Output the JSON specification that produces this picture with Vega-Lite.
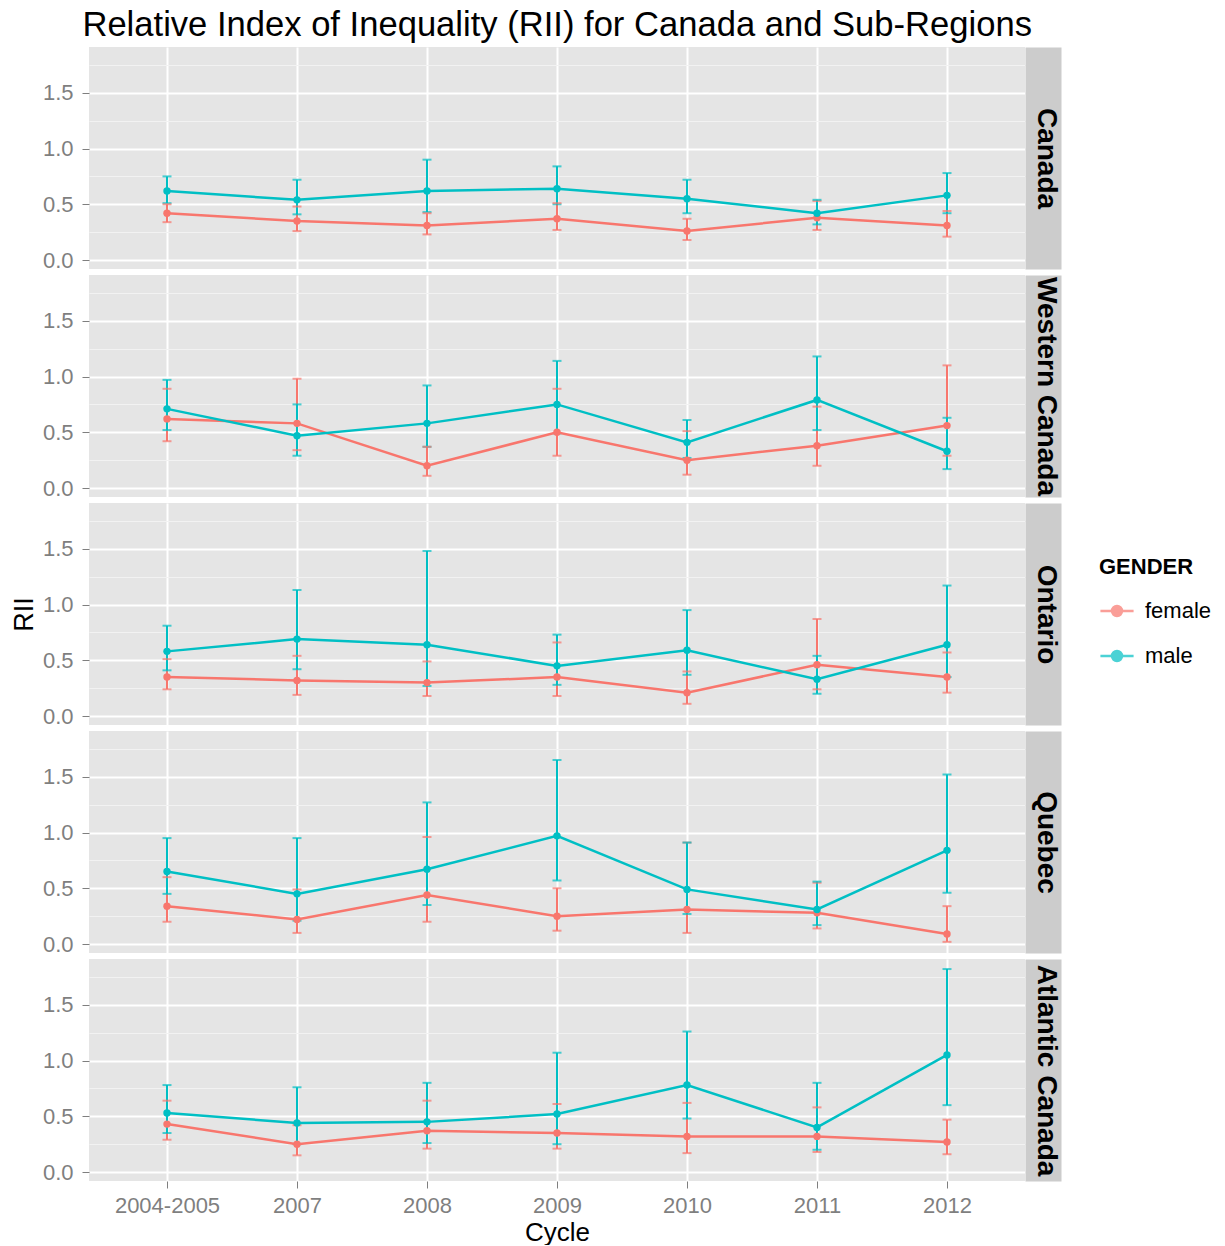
{
  "$schema": "https://vega.github.io/schema/vega-lite/v6.json",
  "background": "white",
  "padding": {"left": 10, "top": 8, "right": 5, "bottom": 0},
  "title": {"text": "Relative Index of Inequality (RII) for Canada and Sub-Regions", "fontSize": 34.6, "font": "Liberation Sans", "fontWeight": "normal", "anchor": "start", "color": "black", "offset": 3, "dx": 72},
  "data": {"values": [
    {"region":"Canada","cycle":"2004-2005","gender":"female","RII":0.42,"lower":0.34,"upper":0.50},
    {"region":"Canada","cycle":"2007","gender":"female","RII":0.35,"lower":0.26,"upper":0.48},
    {"region":"Canada","cycle":"2008","gender":"female","RII":0.31,"lower":0.23,"upper":0.42},
    {"region":"Canada","cycle":"2009","gender":"female","RII":0.37,"lower":0.27,"upper":0.51},
    {"region":"Canada","cycle":"2010","gender":"female","RII":0.26,"lower":0.18,"upper":0.37},
    {"region":"Canada","cycle":"2011","gender":"female","RII":0.38,"lower":0.27,"upper":0.53},
    {"region":"Canada","cycle":"2012","gender":"female","RII":0.31,"lower":0.21,"upper":0.44},
    {"region":"Western Canada","cycle":"2004-2005","gender":"female","RII":0.62,"lower":0.42,"upper":0.89},
    {"region":"Western Canada","cycle":"2007","gender":"female","RII":0.58,"lower":0.34,"upper":0.98},
    {"region":"Western Canada","cycle":"2008","gender":"female","RII":0.20,"lower":0.11,"upper":0.37},
    {"region":"Western Canada","cycle":"2009","gender":"female","RII":0.50,"lower":0.29,"upper":0.89},
    {"region":"Western Canada","cycle":"2010","gender":"female","RII":0.25,"lower":0.12,"upper":0.51},
    {"region":"Western Canada","cycle":"2011","gender":"female","RII":0.38,"lower":0.20,"upper":0.73},
    {"region":"Western Canada","cycle":"2012","gender":"female","RII":0.56,"lower":0.29,"upper":1.10},
    {"region":"Ontario","cycle":"2004-2005","gender":"female","RII":0.35,"lower":0.24,"upper":0.51},
    {"region":"Ontario","cycle":"2007","gender":"female","RII":0.32,"lower":0.19,"upper":0.54},
    {"region":"Ontario","cycle":"2008","gender":"female","RII":0.30,"lower":0.18,"upper":0.49},
    {"region":"Ontario","cycle":"2009","gender":"female","RII":0.35,"lower":0.18,"upper":0.66},
    {"region":"Ontario","cycle":"2010","gender":"female","RII":0.21,"lower":0.11,"upper":0.40},
    {"region":"Ontario","cycle":"2011","gender":"female","RII":0.46,"lower":0.24,"upper":0.87},
    {"region":"Ontario","cycle":"2012","gender":"female","RII":0.35,"lower":0.21,"upper":0.57},
    {"region":"Quebec","cycle":"2004-2005","gender":"female","RII":0.34,"lower":0.20,"upper":0.60},
    {"region":"Quebec","cycle":"2007","gender":"female","RII":0.22,"lower":0.10,"upper":0.49},
    {"region":"Quebec","cycle":"2008","gender":"female","RII":0.44,"lower":0.20,"upper":0.96},
    {"region":"Quebec","cycle":"2009","gender":"female","RII":0.25,"lower":0.12,"upper":0.50},
    {"region":"Quebec","cycle":"2010","gender":"female","RII":0.31,"lower":0.10,"upper":0.91},
    {"region":"Quebec","cycle":"2011","gender":"female","RII":0.28,"lower":0.14,"upper":0.55},
    {"region":"Quebec","cycle":"2012","gender":"female","RII":0.09,"lower":0.02,"upper":0.34},
    {"region":"Atlantic Canada","cycle":"2004-2005","gender":"female","RII":0.43,"lower":0.29,"upper":0.64},
    {"region":"Atlantic Canada","cycle":"2007","gender":"female","RII":0.25,"lower":0.15,"upper":0.42},
    {"region":"Atlantic Canada","cycle":"2008","gender":"female","RII":0.37,"lower":0.21,"upper":0.64},
    {"region":"Atlantic Canada","cycle":"2009","gender":"female","RII":0.35,"lower":0.21,"upper":0.61},
    {"region":"Atlantic Canada","cycle":"2010","gender":"female","RII":0.32,"lower":0.17,"upper":0.62},
    {"region":"Atlantic Canada","cycle":"2011","gender":"female","RII":0.32,"lower":0.18,"upper":0.58},
    {"region":"Atlantic Canada","cycle":"2012","gender":"female","RII":0.27,"lower":0.16,"upper":0.47},
    {"region":"Canada","cycle":"2004-2005","gender":"male","RII":0.62,"lower":0.51,"upper":0.75},
    {"region":"Canada","cycle":"2007","gender":"male","RII":0.54,"lower":0.41,"upper":0.72},
    {"region":"Canada","cycle":"2008","gender":"male","RII":0.62,"lower":0.43,"upper":0.90},
    {"region":"Canada","cycle":"2009","gender":"male","RII":0.64,"lower":0.50,"upper":0.84},
    {"region":"Canada","cycle":"2010","gender":"male","RII":0.55,"lower":0.42,"upper":0.72},
    {"region":"Canada","cycle":"2011","gender":"male","RII":0.42,"lower":0.32,"upper":0.54},
    {"region":"Canada","cycle":"2012","gender":"male","RII":0.58,"lower":0.42,"upper":0.78},
    {"region":"Western Canada","cycle":"2004-2005","gender":"male","RII":0.71,"lower":0.52,"upper":0.97},
    {"region":"Western Canada","cycle":"2007","gender":"male","RII":0.47,"lower":0.29,"upper":0.75},
    {"region":"Western Canada","cycle":"2008","gender":"male","RII":0.58,"lower":0.37,"upper":0.92},
    {"region":"Western Canada","cycle":"2009","gender":"male","RII":0.75,"lower":0.49,"upper":1.14},
    {"region":"Western Canada","cycle":"2010","gender":"male","RII":0.41,"lower":0.27,"upper":0.61},
    {"region":"Western Canada","cycle":"2011","gender":"male","RII":0.79,"lower":0.52,"upper":1.18},
    {"region":"Western Canada","cycle":"2012","gender":"male","RII":0.33,"lower":0.17,"upper":0.63},
    {"region":"Ontario","cycle":"2004-2005","gender":"male","RII":0.58,"lower":0.41,"upper":0.81},
    {"region":"Ontario","cycle":"2007","gender":"male","RII":0.69,"lower":0.42,"upper":1.13},
    {"region":"Ontario","cycle":"2008","gender":"male","RII":0.64,"lower":0.27,"upper":1.48},
    {"region":"Ontario","cycle":"2009","gender":"male","RII":0.45,"lower":0.28,"upper":0.73},
    {"region":"Ontario","cycle":"2010","gender":"male","RII":0.59,"lower":0.37,"upper":0.95},
    {"region":"Ontario","cycle":"2011","gender":"male","RII":0.33,"lower":0.20,"upper":0.54},
    {"region":"Ontario","cycle":"2012","gender":"male","RII":0.64,"lower":0.35,"upper":1.17},
    {"region":"Quebec","cycle":"2004-2005","gender":"male","RII":0.65,"lower":0.45,"upper":0.95},
    {"region":"Quebec","cycle":"2007","gender":"male","RII":0.45,"lower":0.21,"upper":0.95},
    {"region":"Quebec","cycle":"2008","gender":"male","RII":0.67,"lower":0.35,"upper":1.27},
    {"region":"Quebec","cycle":"2009","gender":"male","RII":0.97,"lower":0.57,"upper":1.65},
    {"region":"Quebec","cycle":"2010","gender":"male","RII":0.49,"lower":0.27,"upper":0.91},
    {"region":"Quebec","cycle":"2011","gender":"male","RII":0.31,"lower":0.17,"upper":0.56},
    {"region":"Quebec","cycle":"2012","gender":"male","RII":0.84,"lower":0.46,"upper":1.52},
    {"region":"Atlantic Canada","cycle":"2004-2005","gender":"male","RII":0.53,"lower":0.35,"upper":0.78},
    {"region":"Atlantic Canada","cycle":"2007","gender":"male","RII":0.44,"lower":0.25,"upper":0.76},
    {"region":"Atlantic Canada","cycle":"2008","gender":"male","RII":0.45,"lower":0.26,"upper":0.80},
    {"region":"Atlantic Canada","cycle":"2009","gender":"male","RII":0.52,"lower":0.25,"upper":1.07},
    {"region":"Atlantic Canada","cycle":"2010","gender":"male","RII":0.78,"lower":0.48,"upper":1.26},
    {"region":"Atlantic Canada","cycle":"2011","gender":"male","RII":0.40,"lower":0.20,"upper":0.80},
    {"region":"Atlantic Canada","cycle":"2012","gender":"male","RII":1.05,"lower":0.60,"upper":1.82}
  ]},
  "spacing": 6,
  "bounds": "flush",
  "vconcat": [
    {
      "transform": [{"filter": "datum.region === 'Canada'"}],
      "width": 936, "height": 222,
      "encoding": {
        "x": {"field": "cycle", "type": "ordinal", "sort": ["2004-2005", "2007", "2008", "2009", "2010", "2011", "2012"], "scale": {"type": "point", "padding": 0.6}, "axis": {"labels": false, "ticks": false, "title": null, "grid": true}},
        "color": {"field": "gender", "type": "nominal", "title": "GENDER", "scale": {"domain": ["female", "male"], "range": ["#F8766D", "#00BFC4"]}}
      },
      "layer": [
        {"mark": {"type": "rule", "strokeWidth": 2}, "encoding": {"y": {"field": "lower", "type": "quantitative", "scale": {"domain": [-0.08, 1.91], "nice": false, "zero": false}, "axis": {"values": [0, 0.5, 1, 1.5], "format": ".1f", "title": null, "grid": true}}, "y2": {"field": "upper"}}},
        {"mark": {"type": "tick", "size": 9, "thickness": 2}, "encoding": {"y": {"field": "lower", "type": "quantitative", "axis": null}}},
        {"mark": {"type": "tick", "size": 9, "thickness": 2}, "encoding": {"y": {"field": "upper", "type": "quantitative", "axis": null}}},
        {"mark": {"type": "line", "strokeWidth": 2.5}, "encoding": {"y": {"field": "RII", "type": "quantitative", "axis": {"orient": "right", "labels": false, "ticks": false, "domain": true, "domainColor": "#cccccc", "domainWidth": 36, "offset": 18, "grid": true, "values": [0.25, 0.75, 1.25, 1.75], "gridColor": "#f2f2f2", "gridWidth": 1, "title": "Canada", "titleFontSize": 28, "titleFontWeight": "bold", "titlePadding": -12, "titleLimit": 300}}}},
        {"mark": {"type": "point", "filled": true, "size": 55, "opacity": 1}, "encoding": {"y": {"field": "RII", "type": "quantitative", "axis": null}}}
      ],
      "resolve": {"axis": {"y": "independent"}}
    },
    {
      "transform": [{"filter": "datum.region === 'Western Canada'"}],
      "width": 936, "height": 222,
      "encoding": {
        "x": {"field": "cycle", "type": "ordinal", "sort": ["2004-2005", "2007", "2008", "2009", "2010", "2011", "2012"], "scale": {"type": "point", "padding": 0.6}, "axis": {"labels": false, "ticks": false, "title": null, "grid": true}},
        "color": {"field": "gender", "type": "nominal", "title": "GENDER", "scale": {"domain": ["female", "male"], "range": ["#F8766D", "#00BFC4"]}}
      },
      "layer": [
        {"mark": {"type": "rule", "strokeWidth": 2}, "encoding": {"y": {"field": "lower", "type": "quantitative", "scale": {"domain": [-0.08, 1.91], "nice": false, "zero": false}, "axis": {"values": [0, 0.5, 1, 1.5], "format": ".1f", "title": null, "grid": true}}, "y2": {"field": "upper"}}},
        {"mark": {"type": "tick", "size": 9, "thickness": 2}, "encoding": {"y": {"field": "lower", "type": "quantitative", "axis": null}}},
        {"mark": {"type": "tick", "size": 9, "thickness": 2}, "encoding": {"y": {"field": "upper", "type": "quantitative", "axis": null}}},
        {"mark": {"type": "line", "strokeWidth": 2.5}, "encoding": {"y": {"field": "RII", "type": "quantitative", "axis": {"orient": "right", "labels": false, "ticks": false, "domain": true, "domainColor": "#cccccc", "domainWidth": 36, "offset": 18, "grid": true, "values": [0.25, 0.75, 1.25, 1.75], "gridColor": "#f2f2f2", "gridWidth": 1, "title": "Western Canada", "titleFontSize": 28, "titleFontWeight": "bold", "titlePadding": -12, "titleLimit": 300}}}},
        {"mark": {"type": "point", "filled": true, "size": 55, "opacity": 1}, "encoding": {"y": {"field": "RII", "type": "quantitative", "axis": null}}}
      ],
      "resolve": {"axis": {"y": "independent"}}
    },
    {
      "transform": [{"filter": "datum.region === 'Ontario'"}],
      "width": 936, "height": 222,
      "encoding": {
        "x": {"field": "cycle", "type": "ordinal", "sort": ["2004-2005", "2007", "2008", "2009", "2010", "2011", "2012"], "scale": {"type": "point", "padding": 0.6}, "axis": {"labels": false, "ticks": false, "title": null, "grid": true}},
        "color": {"field": "gender", "type": "nominal", "title": "GENDER", "scale": {"domain": ["female", "male"], "range": ["#F8766D", "#00BFC4"]},
          "legend": {"orient": "none", "legendX": 1010, "legendY": 510, "titleFontSize": 22, "titleFontWeight": "bold", "titleColor": "black", "labelFontSize": 22, "labelColor": "black", "symbolType": "M-1,0L1,0M-0.3,0A0.3,0.3 0 1,0 0.3,0A0.3,0.3 0 1,0 -0.3,0", "symbolSize": 1100, "symbolStrokeWidth": 2.5, "rowPadding": 16, "titlePadding": 14, "labelOffset": 10}}
      },
      "layer": [
        {"mark": {"type": "rule", "strokeWidth": 2}, "encoding": {"y": {"field": "lower", "type": "quantitative", "scale": {"domain": [-0.08, 1.91], "nice": false, "zero": false}, "axis": {"values": [0, 0.5, 1, 1.5], "format": ".1f", "title": "RII", "titlePadding": 4, "grid": true}}, "y2": {"field": "upper"}}},
        {"mark": {"type": "tick", "size": 9, "thickness": 2}, "encoding": {"y": {"field": "lower", "type": "quantitative", "axis": null}}},
        {"mark": {"type": "tick", "size": 9, "thickness": 2}, "encoding": {"y": {"field": "upper", "type": "quantitative", "axis": null}}},
        {"mark": {"type": "line", "strokeWidth": 2.5}, "encoding": {"y": {"field": "RII", "type": "quantitative", "axis": {"orient": "right", "labels": false, "ticks": false, "domain": true, "domainColor": "#cccccc", "domainWidth": 36, "offset": 18, "grid": true, "values": [0.25, 0.75, 1.25, 1.75], "gridColor": "#f2f2f2", "gridWidth": 1, "title": "Ontario", "titleFontSize": 28, "titleFontWeight": "bold", "titlePadding": -12, "titleLimit": 300}}}},
        {"mark": {"type": "point", "filled": true, "size": 55, "opacity": 1}, "encoding": {"y": {"field": "RII", "type": "quantitative", "axis": null}}}
      ],
      "resolve": {"axis": {"y": "independent"}}
    },
    {
      "transform": [{"filter": "datum.region === 'Quebec'"}],
      "width": 936, "height": 222,
      "encoding": {
        "x": {"field": "cycle", "type": "ordinal", "sort": ["2004-2005", "2007", "2008", "2009", "2010", "2011", "2012"], "scale": {"type": "point", "padding": 0.6}, "axis": {"labels": false, "ticks": false, "title": null, "grid": true}},
        "color": {"field": "gender", "type": "nominal", "title": "GENDER", "scale": {"domain": ["female", "male"], "range": ["#F8766D", "#00BFC4"]}}
      },
      "layer": [
        {"mark": {"type": "rule", "strokeWidth": 2}, "encoding": {"y": {"field": "lower", "type": "quantitative", "scale": {"domain": [-0.08, 1.91], "nice": false, "zero": false}, "axis": {"values": [0, 0.5, 1, 1.5], "format": ".1f", "title": null, "grid": true}}, "y2": {"field": "upper"}}},
        {"mark": {"type": "tick", "size": 9, "thickness": 2}, "encoding": {"y": {"field": "lower", "type": "quantitative", "axis": null}}},
        {"mark": {"type": "tick", "size": 9, "thickness": 2}, "encoding": {"y": {"field": "upper", "type": "quantitative", "axis": null}}},
        {"mark": {"type": "line", "strokeWidth": 2.5}, "encoding": {"y": {"field": "RII", "type": "quantitative", "axis": {"orient": "right", "labels": false, "ticks": false, "domain": true, "domainColor": "#cccccc", "domainWidth": 36, "offset": 18, "grid": true, "values": [0.25, 0.75, 1.25, 1.75], "gridColor": "#f2f2f2", "gridWidth": 1, "title": "Quebec", "titleFontSize": 28, "titleFontWeight": "bold", "titlePadding": -12, "titleLimit": 300}}}},
        {"mark": {"type": "point", "filled": true, "size": 55, "opacity": 1}, "encoding": {"y": {"field": "RII", "type": "quantitative", "axis": null}}}
      ],
      "resolve": {"axis": {"y": "independent"}}
    },
    {
      "transform": [{"filter": "datum.region === 'Atlantic Canada'"}],
      "width": 936, "height": 222,
      "encoding": {
        "x": {"field": "cycle", "type": "ordinal", "sort": ["2004-2005", "2007", "2008", "2009", "2010", "2011", "2012"], "scale": {"type": "point", "padding": 0.6}, "title": "Cycle", "axis": {"labelAngle": 0, "grid": true, "labelPadding": 7, "titlePadding": 3, "titleFontSize": 26}},
        "color": {"field": "gender", "type": "nominal", "title": "GENDER", "scale": {"domain": ["female", "male"], "range": ["#F8766D", "#00BFC4"]}}
      },
      "layer": [
        {"mark": {"type": "rule", "strokeWidth": 2}, "encoding": {"y": {"field": "lower", "type": "quantitative", "scale": {"domain": [-0.08, 1.91], "nice": false, "zero": false}, "axis": {"values": [0, 0.5, 1, 1.5], "format": ".1f", "title": null, "grid": true}}, "y2": {"field": "upper"}}},
        {"mark": {"type": "tick", "size": 9, "thickness": 2}, "encoding": {"y": {"field": "lower", "type": "quantitative", "axis": null}}},
        {"mark": {"type": "tick", "size": 9, "thickness": 2}, "encoding": {"y": {"field": "upper", "type": "quantitative", "axis": null}}},
        {"mark": {"type": "line", "strokeWidth": 2.5}, "encoding": {"y": {"field": "RII", "type": "quantitative", "axis": {"orient": "right", "labels": false, "ticks": false, "domain": true, "domainColor": "#cccccc", "domainWidth": 36, "offset": 18, "grid": true, "values": [0.25, 0.75, 1.25, 1.75], "gridColor": "#f2f2f2", "gridWidth": 1, "title": "Atlantic Canada", "titleFontSize": 28, "titleFontWeight": "bold", "titlePadding": -12, "titleLimit": 300}}}},
        {"mark": {"type": "point", "filled": true, "size": 55, "opacity": 1}, "encoding": {"y": {"field": "RII", "type": "quantitative", "axis": null}}}
      ],
      "resolve": {"axis": {"y": "independent"}}
    }
  ],
  "config": {
    "view": {"fill": "#e5e5e5", "stroke": null},
    "font": "Liberation Sans",
    "axis": {"labelFontSize": 22, "labelColor": "#7f7f7f", "labelFont": "Liberation Sans", "tickColor": "#7f7f7f", "tickSize": 7, "labelPadding": 9, "domain": false, "gridColor": "white", "gridWidth": 2, "titleFontSize": 27, "titleFontWeight": "normal", "titleFont": "Liberation Sans", "titleColor": "black"},
    "legend": {"titleFont": "Liberation Sans", "labelFont": "Liberation Sans"}
  }
}
